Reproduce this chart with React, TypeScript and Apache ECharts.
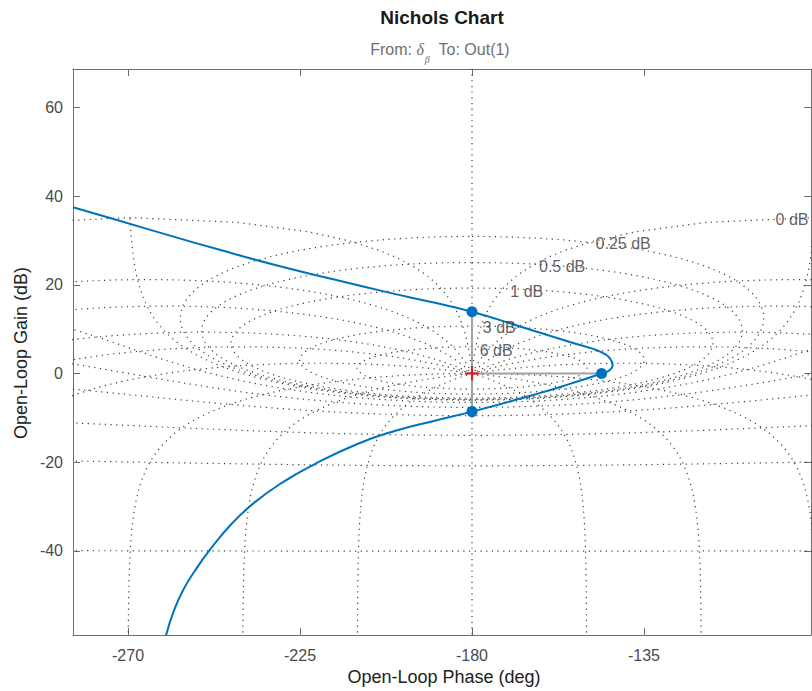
import React, { useEffect, useRef } from 'react';
import * as echarts from 'echarts';

// Axis extents and tick labels
const phaseRange = [-284.4, -91.3];
const gainRange = [-59, 68.7];
const phaseTicks = [-270, -225, -180, -135];
const gainTicks = [-40, -20, 0, 20, 40, 60];

// Open-loop frequency response (phase in deg, gain in dB)
const olPhase = [-284.4, -272.0, -259.0, -246.0, -232.0, -218.0, -202.0, -190.0, -180.0, -167.4, -154.4, -148.5, -145.6, -143.9, -143.2, -143.9, -146.1, -154.6, -163.0, -180.0, -190.0, -200.0, -210.0, -221.5, -230.0, -237.2, -243.0, -248.6, -252.5, -255.6, -258.0, -260.1];
const olGain = [37.5, 34.4, 31.1, 27.9, 24.6, 21.6, 18.3, 16.0, 13.95, 10.6, 7.1, 5.6, 4.56, 3.4, 1.9, 0.8, 0.0, -2.4, -4.6, -8.6, -10.7, -12.9, -15.9, -20.6, -24.8, -29.3, -34.0, -39.8, -44.5, -48.9, -53.5, -59.2];

// Stability margin markers
const marginPhase = [-180, -146.1, -180];
const marginGain = [13.95, 0, -8.6];
const criticalPoint = [-180, 0];

// Nichols grid: closed-loop gain (dB) and closed-loop phase (deg) contours
const gridGainsDb = [6, 3, 1, 0.5, 0.25, 0, -1, -3, -6, -12, -20, -40, -60];
const gridPhasesDeg = [-1, -5, -10, -20, -30, -50, -90, -120, -150, -210, -240, -270, -310, -330, -340, -350, -355, -359];

// Grid labels
const gridLabelText = ['6 dB', '3 dB', '1 dB', '0.5 dB', '0.25 dB', '0 dB'];
const gridLabelPhase = [-178.1, -177.3, -170.1, -162.6, -147.8, -100.7];
const gridLabelGain = [5.3, 10.3, 18.5, 24.1, 29.4, 34.65];

const d2r = Math.PI / 180;

function toNichols(re: number, im: number): [number, number] {
  let ph = Math.atan2(im, re) / d2r;
  if (ph > 0) ph -= 360;
  return [ph, 10 * Math.log10(re * re + im * im)];
}

function openLoopFromClosed(m: number, psiRad: number): [number, number] {
  const tr = m * Math.cos(psiRad);
  const ti = m * Math.sin(psiRad);
  const dr = 1 - tr;
  const di = -ti;
  const den = dr * dr + di * di;
  const gr = (tr * dr + ti * di) / den;
  const gi = (ti * dr - tr * di) / den;
  return toNichols(gr, gi);
}

function splitSegments(pts: [number, number][]): [number, number][][] {
  const segs: [number, number][][] = [];
  let cur: [number, number][] = [];
  for (let i = 0; i < pts.length; i++) {
    const p = pts[i];
    if (!isFinite(p[0]) || !isFinite(p[1])) {
      if (cur.length > 1) segs.push(cur);
      cur = [];
      continue;
    }
    if (cur.length && Math.abs(p[0] - cur[cur.length - 1][0]) > 90) {
      if (cur.length > 1) segs.push(cur);
      cur = [];
    }
    cur.push(p);
  }
  if (cur.length > 1) segs.push(cur);
  return segs;
}

function gainContour(mdb: number): [number, number][][] {
  const pts: [number, number][] = [];
  if (Math.abs(mdb) < 1e-9) {
    for (let p = -90.5; p >= -269.5; p -= 0.25) {
      const r = -1 / (2 * Math.cos(p * d2r));
      pts.push([p, 20 * Math.log10(r)]);
    }
    return [pts];
  }
  const M = Math.pow(10, mdb / 20);
  for (let i = 0; i <= 1440; i++) {
    pts.push(openLoopFromClosed(M, -i * 0.25 * d2r));
  }
  return splitSegments(pts);
}

function phaseContour(psi: number): [number, number][][] {
  const pts: [number, number][] = [];
  for (let i = 0; i <= 1750; i++) {
    const t = -3.5 + i * 0.004;
    pts.push(openLoopFromClosed(Math.pow(10, t), psi * d2r));
  }
  return splitSegments(pts);
}

const FONT = '"Liberation Sans", Arial, Helvetica, sans-serif';
const AXIS_COLOR = '#6e6e6e';
const TICK_TEXT = '#4a4a4a';
const GRID_COLOR = '#3c3c3c';

function buildOption() {
  const gridSeries: any[] = [];
  const segs: [number, number][][] = [];
  gridGainsDb.forEach((g) => segs.push(...gainContour(g)));
  gridPhasesDeg.forEach((p) => segs.push(...phaseContour(p)));
  segs.push([[-180, gainRange[0] - 5], [-180, gainRange[1] + 5]]);
  segs.forEach((s) => {
    gridSeries.push({
      type: 'line',
      data: s,
      symbol: 'none',
      silent: true,
      z: 1,
      clip: true,
      lineStyle: { color: GRID_COLOR, width: 1.2, type: [1.2, 4.5] },
    });
  });

  const olData = olPhase.map((p, i) => [p, olGain[i]]);
  const markerData = marginPhase.map((p, i) => [p, marginGain[i]]);
  const labelData = gridLabelText.map((t, i) => ({ name: t, value: [gridLabelPhase[i], gridLabelGain[i]] }));

  const axisCommon = {
    type: 'value',
    axisLine: { show: true, onZero: false, lineStyle: { color: AXIS_COLOR, width: 1 } },
    splitLine: { show: false },
  };

  return {
    animation: false,
    backgroundColor: '#ffffff',
    grid: { left: 73, top: 69, right: 1, bottom: 56, containLabel: false },
    xAxis: [
      {
        ...axisCommon,
        position: 'bottom',
        min: phaseRange[0],
        max: phaseRange[1],
        axisTick: { show: true, inside: true, length: 7, customValues: phaseTicks, lineStyle: { color: AXIS_COLOR } },
        axisLabel: { show: true, customValues: phaseTicks, margin: 12, color: TICK_TEXT, fontSize: 16, fontFamily: FONT },
      },
      {
        ...axisCommon,
        position: 'top',
        min: phaseRange[0],
        max: phaseRange[1],
        axisTick: { show: true, inside: true, length: 7, customValues: phaseTicks, lineStyle: { color: AXIS_COLOR } },
        axisLabel: { show: false },
      },
    ],
    yAxis: [
      {
        ...axisCommon,
        position: 'left',
        min: gainRange[0],
        max: gainRange[1],
        axisTick: { show: true, inside: true, length: 7, customValues: gainTicks, lineStyle: { color: AXIS_COLOR } },
        axisLabel: { show: true, customValues: gainTicks, margin: 10, color: TICK_TEXT, fontSize: 16, fontFamily: FONT },
      },
      {
        ...axisCommon,
        position: 'right',
        min: gainRange[0],
        max: gainRange[1],
        axisTick: { show: true, inside: true, length: 7, customValues: gainTicks, lineStyle: { color: AXIS_COLOR } },
        axisLabel: { show: false },
      },
    ],
    series: [
      ...gridSeries,
      {
        type: 'line',
        data: [[marginPhase[0], marginGain[0]], [marginPhase[2], marginGain[2]]],
        symbol: 'none',
        silent: true,
        z: 3,
        lineStyle: { color: '#a3a3a3', width: 2 },
      },
      {
        type: 'line',
        data: [criticalPoint, [marginPhase[1], marginGain[1]]],
        symbol: 'none',
        silent: true,
        z: 3,
        lineStyle: { color: '#a3a3a3', width: 2 },
      },
      {
        type: 'line',
        data: olData,
        symbol: 'none',
        smooth: 0.5,
        z: 4,
        clip: true,
        lineStyle: { color: '#0072BD', width: 2 },
      },
      {
        type: 'scatter',
        data: markerData,
        symbol: 'circle',
        symbolSize: 11,
        z: 5,
        itemStyle: { color: '#0072BD', opacity: 1 },
      },
      {
        type: 'scatter',
        data: [criticalPoint],
        symbol: 'path://M4.3,0H5.7V4.3H10V5.7H5.7V10H4.3V5.7H0V4.3H4.3Z',
        symbolSize: 14,
        z: 6,
        itemStyle: { color: '#e8121b', opacity: 1 },
      },
      {
        type: 'scatter',
        data: labelData,
        symbolSize: 1,
        z: 7,
        silent: true,
        itemStyle: { color: 'rgba(0,0,0,0)' },
        label: {
          show: true,
          position: 'right',
          distance: 0,
          formatter: '{b}',
          color: '#363636',
          fontSize: 16,
          fontFamily: FONT,
        },
      },
    ],
    graphic: [
      {
        type: 'text',
        x: 442,
        y: 17,
        style: {
          text: 'Nichols Chart',
          align: 'center',
          verticalAlign: 'middle',
          fontSize: 19,
          fontWeight: 'bold',
          fontFamily: FONT,
          fill: '#1a1a1a',
        },
      },
      {
        type: 'text',
        x: 440,
        y: 50,
        style: {
          text: '{n|From: }{d|δ}{s|β}{n|  To: Out(1)}',
          align: 'center',
          verticalAlign: 'middle',
          rich: {
            n: { fontSize: 16, fontFamily: FONT, fill: '#707070', color: '#707070', lineHeight: 17, verticalAlign: 'top' },
            d: { fontSize: 16, fontFamily: '"Liberation Serif", serif', fontStyle: 'italic', fill: '#707070', color: '#707070', lineHeight: 17, verticalAlign: 'top' },
            s: { fontSize: 10, fontFamily: '"Liberation Serif", serif', fontStyle: 'italic', fill: '#707070', color: '#707070', lineHeight: 10, padding: [13, 0, 0, 1], verticalAlign: 'top' },
          },
        },
      },
      {
        type: 'text',
        x: 444,
        y: 677,
        style: {
          text: 'Open-Loop Phase (deg)',
          align: 'center',
          verticalAlign: 'middle',
          fontSize: 18,
          fontFamily: FONT,
          fill: '#222222',
        },
      },
      {
        type: 'text',
        x: 21,
        y: 353,
        rotation: Math.PI / 2,
        style: {
          text: 'Open-Loop Gain (dB)',
          align: 'center',
          verticalAlign: 'middle',
          fontSize: 18,
          fontFamily: FONT,
          fill: '#222222',
        },
      },
    ],
  };
}

export default function App() {
  const ref = useRef<HTMLDivElement>(null);
  useEffect(() => {
    if (!ref.current) return;
    const chart = echarts.init(ref.current, null, { renderer: 'svg' });
    chart.setOption(buildOption() as any);
    return () => chart.dispose();
  }, []);
  return (
    <div
      ref={ref}
      style={{ position: 'absolute', left: 0, top: 0, width: 812, height: 691, background: '#fff' }}
    />
  );
}
